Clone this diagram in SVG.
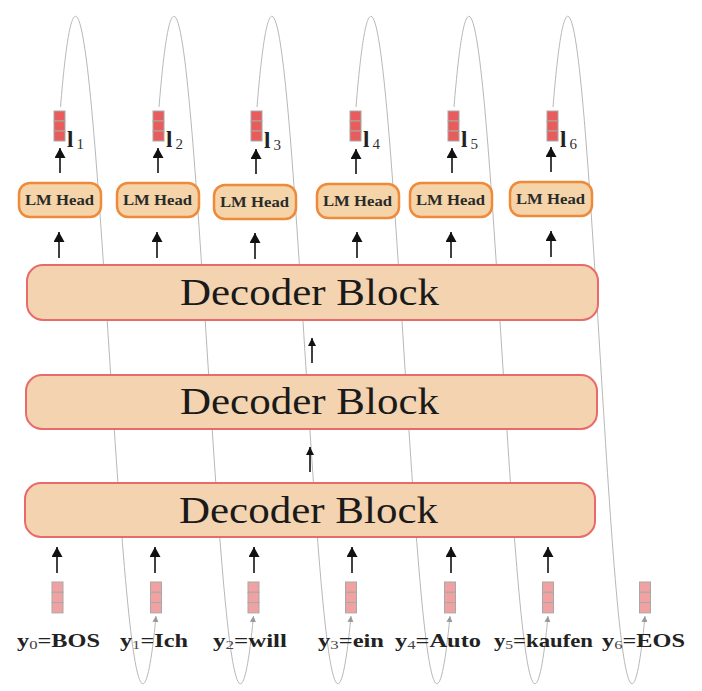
<svg xmlns="http://www.w3.org/2000/svg" width="702" height="691" viewBox="0 0 702 691">
<style>
.curve{fill:none;stroke:#b8b8b8;stroke-width:1}
.arr{fill:none;stroke:#111;stroke-width:1.6}
.dec{fill:#f3d3b0;stroke:#e86a6a;stroke-width:2}
.lm{fill:#f4d4a8;stroke:#ef8a3a;stroke-width:2.5}
.vt{fill:#e85c5c;stroke:#a8a8a8;stroke-width:1}
.vb{fill:#f0a2a2;stroke:#a8a8a8;stroke-width:1}
.dt{font-family:"Liberation Serif",serif;font-size:38px;fill:#1a1a1a}
.lt{font-family:"Liberation Serif",serif;font-size:14px;font-weight:bold;fill:#2a2a2a}
.lab{font-family:"Liberation Serif",serif;font-size:19px;font-weight:bold;fill:#222}
.sub{font-weight:normal;font-size:13px;fill:#444}
.ll{font-family:"Liberation Serif",serif;font-size:23px;font-weight:bold;fill:#222}
.lsub{font-weight:normal;font-size:15px;fill:#333}
</style>
<defs>
<marker id="ah" markerUnits="userSpaceOnUse" markerWidth="12" markerHeight="12" refX="10" refY="5.5" orient="auto">
<path d="M0,0 L10,5.5 L0,11 Z" fill="#111"/>
</marker>
<marker id="ahs" markerUnits="userSpaceOnUse" markerWidth="10" markerHeight="10" refX="8" refY="4" orient="auto">
<path d="M0,0 L8,4 L0,8 Z" fill="#111"/>
</marker>
<marker id="ag" markerUnits="userSpaceOnUse" markerWidth="8" markerHeight="8" refX="6" refY="3" orient="auto">
<path d="M0,0 L6,3 L0,6 Z" fill="#999"/>
</marker>
</defs>
<rect width="702" height="691" fill="#fff"/>

<g id="connectors">
<g id="feedback-curves">
<path class="curve" marker-end="url(#ag)" d="M60.5,107 C96.5,-333 120,991 156,616"/>
<path class="curve" marker-end="url(#ag)" d="M159,107 C195,-333 217.5,991 253.5,616"/>
<path class="curve" marker-end="url(#ag)" d="M257,107 C293,-333 315,991 351,616"/>
<path class="curve" marker-end="url(#ag)" d="M356,107 C392,-333 414,991 450,616"/>
<path class="curve" marker-end="url(#ag)" d="M454,107 C490,-333 512,991 548,616"/>
<path class="curve" marker-end="url(#ag)" d="M553,107 C589,-333 609,991 645,616"/>
</g>
<g id="arrows-l">
<line class="arr" marker-end="url(#ah)" x1="60" y1="173" x2="60" y2="148"/>
<line class="arr" marker-end="url(#ah)" x1="158" y1="173" x2="158" y2="148"/>
<line class="arr" marker-end="url(#ah)" x1="256" y1="174" x2="256" y2="149"/>
<line class="arr" marker-end="url(#ah)" x1="356" y1="174" x2="356" y2="149"/>
<line class="arr" marker-end="url(#ah)" x1="452" y1="173" x2="452" y2="148"/>
<line class="arr" marker-end="url(#ah)" x1="551" y1="172" x2="551" y2="147"/>
</g>
<g id="arrows-lm">
<line class="arr" marker-end="url(#ah)" x1="59" y1="258" x2="59" y2="232"/>
<line class="arr" marker-end="url(#ah)" x1="157" y1="258" x2="157" y2="232"/>
<line class="arr" marker-end="url(#ah)" x1="255" y1="259" x2="255" y2="233"/>
<line class="arr" marker-end="url(#ah)" x1="357" y1="258" x2="357" y2="232"/>
<line class="arr" marker-end="url(#ah)" x1="451" y1="258" x2="451" y2="232"/>
<line class="arr" marker-end="url(#ah)" x1="551" y1="257" x2="551" y2="231"/>
</g>
<g id="arrows-mid">
<line class="arr" marker-end="url(#ahs)" x1="312" y1="363" x2="312" y2="338"/>
<line class="arr" marker-end="url(#ahs)" x1="310" y1="472" x2="310" y2="447"/>
</g>
<g id="arrows-in">
<line class="arr" marker-end="url(#ah)" x1="57" y1="573" x2="57" y2="547"/>
<line class="arr" marker-end="url(#ah)" x1="155" y1="573" x2="155" y2="547"/>
<line class="arr" marker-end="url(#ah)" x1="254" y1="573" x2="254" y2="547"/>
<line class="arr" marker-end="url(#ah)" x1="352" y1="573" x2="352" y2="547"/>
<line class="arr" marker-end="url(#ah)" x1="451" y1="573" x2="451" y2="547"/>
<line class="arr" marker-end="url(#ah)" x1="548" y1="573" x2="548" y2="547"/>
</g>
</g>

<g id="decoder-1">
<rect class="dec" x="27" y="265" width="571" height="55" rx="16"/>
<text class="dt" x="180" y="305" textLength="259" lengthAdjust="spacingAndGlyphs">Decoder Block</text>
</g>
<g id="decoder-2">
<rect class="dec" x="26" y="375" width="571" height="54" rx="16"/>
<text class="dt" x="180" y="414" textLength="259" lengthAdjust="spacingAndGlyphs">Decoder Block</text>
</g>
<g id="decoder-3">
<rect class="dec" x="25" y="483" width="570" height="54" rx="16"/>
<text class="dt" x="179" y="523" textLength="259" lengthAdjust="spacingAndGlyphs">Decoder Block</text>
</g>

<g id="lm-1"><rect class="lm" x="19" y="183" width="82" height="34" rx="11"/><text class="lt" x="25" y="205" textLength="69" lengthAdjust="spacingAndGlyphs">LM Head</text></g>
<g id="lm-2"><rect class="lm" x="117" y="183" width="82" height="34" rx="11"/><text class="lt" x="123" y="205" textLength="69" lengthAdjust="spacingAndGlyphs">LM Head</text></g>
<g id="lm-3"><rect class="lm" x="214" y="185" width="82" height="34" rx="11"/><text class="lt" x="220" y="207" textLength="69" lengthAdjust="spacingAndGlyphs">LM Head</text></g>
<g id="lm-4"><rect class="lm" x="317" y="184" width="82" height="34" rx="11"/><text class="lt" x="323" y="206" textLength="69" lengthAdjust="spacingAndGlyphs">LM Head</text></g>
<g id="lm-5"><rect class="lm" x="410" y="183" width="82" height="34" rx="11"/><text class="lt" x="416" y="205" textLength="69" lengthAdjust="spacingAndGlyphs">LM Head</text></g>
<g id="lm-6"><rect class="lm" x="510" y="182" width="82" height="34" rx="11"/><text class="lt" x="516" y="204" textLength="69" lengthAdjust="spacingAndGlyphs">LM Head</text></g>

<g id="l1"><rect class="vt" x="54" y="111" width="11" height="10"/><rect class="vt" x="54" y="121" width="11" height="10"/><rect class="vt" x="54" y="131" width="11" height="10"/><text class="ll" x="67" y="147">l<tspan class="lsub" dx="3" dy="2">1</tspan></text></g>
<g id="l2"><rect class="vt" x="153" y="111" width="11" height="10"/><rect class="vt" x="153" y="121" width="11" height="10"/><rect class="vt" x="153" y="131" width="11" height="10"/><text class="ll" x="166" y="147">l<tspan class="lsub" dx="3" dy="2">2</tspan></text></g>
<g id="l3"><rect class="vt" x="251" y="111" width="11" height="10"/><rect class="vt" x="251" y="121" width="11" height="10"/><rect class="vt" x="251" y="131" width="11" height="10"/><text class="ll" x="264" y="148">l<tspan class="lsub" dx="3" dy="2">3</tspan></text></g>
<g id="l4"><rect class="vt" x="350" y="111" width="11" height="10"/><rect class="vt" x="350" y="121" width="11" height="10"/><rect class="vt" x="350" y="131" width="11" height="10"/><text class="ll" x="363" y="147">l<tspan class="lsub" dx="3" dy="2">4</tspan></text></g>
<g id="l5"><rect class="vt" x="448" y="111" width="11" height="10"/><rect class="vt" x="448" y="121" width="11" height="10"/><rect class="vt" x="448" y="131" width="11" height="10"/><text class="ll" x="461" y="147">l<tspan class="lsub" dx="3" dy="2">5</tspan></text></g>
<g id="l6"><rect class="vt" x="547" y="111" width="11" height="10"/><rect class="vt" x="547" y="121" width="11" height="10"/><rect class="vt" x="547" y="131" width="11" height="10"/><text class="ll" x="560" y="147">l<tspan class="lsub" dx="3" dy="2">6</tspan></text></g>

<g id="y0"><rect class="vb" x="52" y="582" width="11" height="10.3"/><rect class="vb" x="52" y="592.3" width="11" height="10.3"/><rect class="vb" x="52" y="602.6" width="11" height="10.3"/><text class="lab" x="17" y="647" textLength="83" lengthAdjust="spacingAndGlyphs">y<tspan class="sub" dy="2">0</tspan><tspan dy="-2">=BOS</tspan></text></g>
<g id="y1"><rect class="vb" x="150.5" y="582" width="11" height="10.3"/><rect class="vb" x="150.5" y="592.3" width="11" height="10.3"/><rect class="vb" x="150.5" y="602.6" width="11" height="10.3"/><text class="lab" x="120" y="647" textLength="68" lengthAdjust="spacingAndGlyphs">y<tspan class="sub" dy="2">1</tspan><tspan dy="-2">=Ich</tspan></text></g>
<g id="y2"><rect class="vb" x="248" y="582" width="11" height="10.3"/><rect class="vb" x="248" y="592.3" width="11" height="10.3"/><rect class="vb" x="248" y="602.6" width="11" height="10.3"/><text class="lab" x="213" y="647" textLength="74" lengthAdjust="spacingAndGlyphs">y<tspan class="sub" dy="2">2</tspan><tspan dy="-2">=will</tspan></text></g>
<g id="y3"><rect class="vb" x="345.5" y="582" width="11" height="10.3"/><rect class="vb" x="345.5" y="592.3" width="11" height="10.3"/><rect class="vb" x="345.5" y="602.6" width="11" height="10.3"/><text class="lab" x="318" y="647" textLength="66" lengthAdjust="spacingAndGlyphs">y<tspan class="sub" dy="2">3</tspan><tspan dy="-2">=ein</tspan></text></g>
<g id="y4"><rect class="vb" x="444.5" y="582" width="11" height="10.3"/><rect class="vb" x="444.5" y="592.3" width="11" height="10.3"/><rect class="vb" x="444.5" y="602.6" width="11" height="10.3"/><text class="lab" x="395" y="647" textLength="86" lengthAdjust="spacingAndGlyphs">y<tspan class="sub" dy="2">4</tspan><tspan dy="-2">=Auto</tspan></text></g>
<g id="y5"><rect class="vb" x="542.5" y="582" width="11" height="10.3"/><rect class="vb" x="542.5" y="592.3" width="11" height="10.3"/><rect class="vb" x="542.5" y="602.6" width="11" height="10.3"/><text class="lab" x="494" y="647" textLength="99" lengthAdjust="spacingAndGlyphs">y<tspan class="sub" dy="2">5</tspan><tspan dy="-2">=kaufen</tspan></text></g>
<g id="y6"><rect class="vb" x="639.5" y="582" width="11" height="10.3"/><rect class="vb" x="639.5" y="592.3" width="11" height="10.3"/><rect class="vb" x="639.5" y="602.6" width="11" height="10.3"/><text class="lab" x="602" y="647" textLength="83" lengthAdjust="spacingAndGlyphs">y<tspan class="sub" dy="2">6</tspan><tspan dy="-2">=EOS</tspan></text></g>
</svg>
